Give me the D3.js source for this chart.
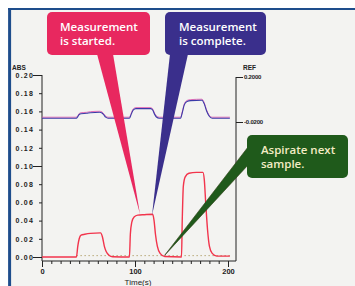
<!DOCTYPE html>
<html>
<head>
<meta charset="utf-8">
<script src="https://cdn.jsdelivr.net/npm/d3@7"></script>
<style>
  body { margin: 0; background: #fff; }
  svg { display: block; }
  .tick text { font-family: "Liberation Sans", Arial, sans-serif; font-weight: bold; fill: #222; }
</style>
</head>
<body>
<div id="chart-holder"></div>
<script>
// ABS trace (red): time in s, absorbance
var absTimes  = [0, 37, 38.5, 40, 42, 46, 52, 63, 65, 67, 69, 72, 76, 94, 95, 96.5, 99, 103, 110, 119, 120.5, 122, 124, 127, 132, 150, 150.8, 152, 154, 158, 166, 173, 174.5, 176, 178, 180, 183, 188, 202];
var absValues = [0, 0, 0.012, 0.02, 0.024, 0.025, 0.026, 0.0265, 0.022, 0.012, 0.006, 0.002, 0.0003, 0, 0.025, 0.038, 0.044, 0.046, 0.0465, 0.047, 0.04, 0.025, 0.012, 0.004, 0.0005, 0, 0.04, 0.078, 0.088, 0.092, 0.093, 0.093, 0.085, 0.06, 0.03, 0.012, 0.004, 0.001, 0.001];

// REF trace (blue)
var refTimes  = [0, 37, 38.5, 40, 42, 48, 52, 62, 64.5, 66.5, 68.5, 71, 94, 96, 98, 101, 117, 119, 121, 123, 126, 149, 151, 153, 156, 160, 172, 174.5, 177, 179.5, 183, 202];
var refValues = [0, 0, 0.008, 0.018, 0.022, 0.024, 0.027, 0.029, 0.026, 0.016, 0.005, 0, 0, 0.02, 0.04, 0.047, 0.047, 0.04, 0.02, 0.006, 0, 0, 0.03, 0.065, 0.082, 0.086, 0.088, 0.07, 0.035, 0.012, 0, 0];

// dotted zero reference
var dottedRange = [37, 204];
var dottedLevel = 0.0015;

// axis ticks
var absTicks = [0, 0.02, 0.04, 0.06, 0.08, 0.10, 0.12, 0.14, 0.16, 0.18, 0.20];
var absMajor = [0, 0.10, 0.20];
var timeTicks = d3.range(0, 201, 10);
var timeMajor = [0, 100, 200];
var refTicks = [0.2, -0.02];
var refLabels = ["0.2000", "-0.0200"];

// callouts: text and the point (time, abs) they point at
var calloutText = [["Measurement", "is started."], ["Measurement", "is complete."], ["Aspirate next", "sample."]];
var calloutTime = [105.4, 118.3, 132];
var calloutAbs = [0.047, 0.046, 0.002];

var width = 355, height = 286;

var svg = d3.select("#chart-holder")
  .append("svg")
  .attr("width", width)
  .attr("height", height);

// frame
svg.append("rect").attr("x", 9).attr("y", 9).attr("width", width).attr("height", height).attr("fill", "#f3f3f1");
svg.append("line").attr("x1", 8).attr("x2", width).attr("y1", 9).attr("y2", 9)
  .attr("stroke", "#1e4d8c").attr("stroke-width", 2.2);
svg.append("line").attr("x1", 9.6).attr("x2", 9.6).attr("y1", 8).attr("y2", height)
  .attr("stroke", "#1e4d8c").attr("stroke-width", 3);

// scales
var x = d3.scaleLinear().domain([0, 200]).range([42, 228]);
var yAbs = d3.scaleLinear().domain([0, 0.2]).range([257, 75]);
var yRef = d3.scaleLinear().domain([-0.02, 0.2]).range([122, 77]);
var axisY = 261;
var rightX = 236;

// left axis
var left = svg.append("g")
  .attr("transform", "translate(" + x(0) + ",0)")
  .call(d3.axisLeft(yAbs).tickValues(absTicks).tickSize(3).tickPadding(6).tickFormat(d3.format(".2f")));
left.select(".domain").remove();
left.selectAll(".tick line")
  .attr("stroke", "#222")
  .attr("x2", function(d) { return absMajor.indexOf(d) >= 0 ? -9 : -3; });
left.selectAll(".tick text")
  .attr("x", -8)
  .style("font-size", "7px")
  .style("letter-spacing", "1.2px");
svg.append("line").attr("x1", x(0)).attr("x2", x(0)).attr("y1", yAbs(0.2)).attr("y2", axisY)
  .attr("stroke", "#222").attr("stroke-width", 1);
svg.append("text").attr("x", 12).attr("y", 70)
  .style("font-family", "Liberation Sans, Arial, sans-serif").style("font-weight", "bold")
  .style("font-size", "6.5px").attr("fill", "#222").text("ABS");

// bottom axis
var bottom = svg.append("g")
  .attr("transform", "translate(0," + axisY + ")")
  .call(d3.axisBottom(x).tickValues(timeTicks).tickSize(3).tickPadding(4)
    .tickFormat(function(d) { return timeMajor.indexOf(d) >= 0 ? d : ""; }));
bottom.select(".domain").remove();
bottom.selectAll(".tick line")
  .attr("stroke", "#222")
  .attr("y2", function(d) { return timeMajor.indexOf(d) >= 0 ? 6 : 3; });
bottom.selectAll(".tick text")
  .attr("y", 7.5)
  .style("font-size", "7.5px");
svg.append("line").attr("x1", x(0)).attr("x2", rightX).attr("y1", axisY).attr("y2", axisY)
  .attr("stroke", "#222").attr("stroke-width", 1);
svg.append("text").attr("x", 138).attr("y", 284.5).attr("text-anchor", "middle")
  .style("font-family", "Liberation Sans, Arial, sans-serif")
  .style("font-size", "8px").attr("fill", "#222").text("Time(s)");

// right axis
var right = svg.append("g")
  .attr("transform", "translate(" + rightX + ",0)")
  .call(d3.axisRight(yRef).tickValues(refTicks).tickSize(7).tickPadding(1)
    .tickFormat(function(d, i) { return refLabels[i]; }));
right.select(".domain").remove();
right.selectAll(".tick line").attr("stroke", "#222");
right.selectAll(".tick text").style("font-size", "6px").style("letter-spacing", "-0.2px");
svg.append("line").attr("x1", rightX).attr("x2", rightX).attr("y1", yRef(0.2)).attr("y2", axisY)
  .attr("stroke", "#222").attr("stroke-width", 1);
svg.append("text").attr("x", 243).attr("y", 70)
  .style("font-family", "Liberation Sans, Arial, sans-serif").style("font-weight", "bold")
  .style("font-size", "6.5px").attr("fill", "#222").text("REF");

// dotted baseline
svg.append("line")
  .attr("x1", x(dottedRange[0])).attr("x2", x(dottedRange[1]))
  .attr("y1", yAbs(dottedLevel)).attr("y2", yAbs(dottedLevel))
  .attr("stroke", "#b8a878").attr("stroke-width", 1)
  .attr("stroke-dasharray", "1.5,2.5");

// REF line: pink shadow then blue
var refData = refTimes.map(function(t, i) { return [t, refValues[i]]; });
var refLine = d3.line()
  .x(function(d) { return x(d[0]); })
  .y(function(d) { return yRef(d[1]); })
  .curve(d3.curveMonotoneX);
svg.append("path").datum(refData).attr("d", refLine)
  .attr("fill", "none").attr("stroke", "#e060b0").attr("stroke-width", 0.9)
  .attr("transform", "translate(0,-0.7)");
svg.append("path").datum(refData).attr("d", refLine)
  .attr("fill", "none").attr("stroke", "#3a3aa8").attr("stroke-width", 1.1)
  .attr("transform", "translate(0,0.3)");

// ABS line
var absData = absTimes.map(function(t, i) { return [t, absValues[i]]; });
var absLine = d3.line()
  .x(function(d) { return x(d[0]); })
  .y(function(d) { return yAbs(d[1]); })
  .curve(d3.curveMonotoneX);
svg.append("path").datum(absData).attr("d", absLine)
  .attr("fill", "none").attr("stroke", "#f2344c").attr("stroke-width", 1.4);

// callouts
var boxes = [
  { x: 47, y: 12, w: 103, h: 43, fill: "#e8285f", text: "#fff", tx: 60, base: [[97, 54], [113, 54]] },
  { x: 165, y: 12, w: 101, h: 43, fill: "#3a2f8c", text: "#fff", tx: 179, base: [[170, 54], [188, 54]] },
  { x: 247, y: 135, w: 101, h: 43, fill: "#1f5a1b", text: "#f3ecc4", tx: 261, base: [[248, 147], [249, 164]] }
];

boxes.forEach(function(b, i) {
  var tip = [x(calloutTime[i]), yAbs(calloutAbs[i])];
  svg.append("path")
    .attr("d", d3.line()([b.base[0], tip, b.base[1]]) + "Z")
    .attr("fill", b.fill)
    .attr("stroke", i == 2 ? "#2a3a10" : "none").attr("stroke-width", 0.6);
  svg.append("rect")
    .attr("x", b.x).attr("y", b.y).attr("width", b.w).attr("height", b.h)
    .attr("rx", 5).attr("fill", b.fill);
  calloutText[i].forEach(function(line, j) {
    svg.append("text")
      .attr("x", b.tx).attr("y", b.y + 19 + j * 14)
      .style("font-family", "Open Sans, sans-serif").style("font-weight", 600)
      .style("font-size", "11.5px").attr("fill", b.text)
      .text(line);
  });
});
</script>
</body>
</html>
